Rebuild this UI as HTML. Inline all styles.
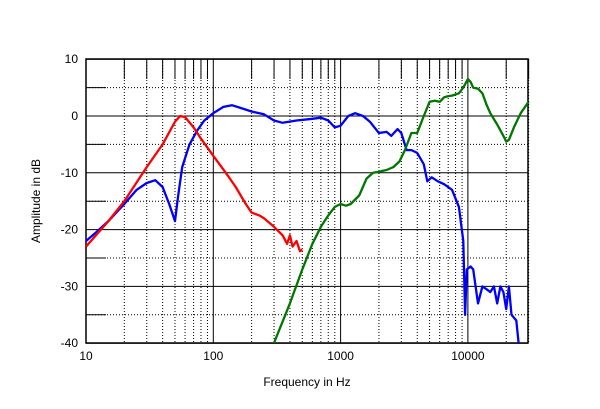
<!DOCTYPE html><html><head><style>body{margin:0;background:#fff}svg{display:block}text{font-family:"Liberation Sans",Arial,sans-serif;font-size:12px;fill:#000}</style></head><body>
<svg id="s" width="600" height="409" xmlns="http://www.w3.org/2000/svg"></svg>
<script>
const s=document.getElementById('s');const L=86,R=528,T=59,B=343;
const X=f=>L+(Math.log10(f)-1)*127.3, Y=d=>116-d*5.68;
let h='';
// horizontal
for(let d=10;d>=-40;d-=5){const y=Y(d);if(d%10==0)h+=`<line x1="${L}" x2="${R}" y1="${y}" y2="${y}" stroke="#000" stroke-width="1"/>`;else{h+=`<line x1="${L}" x2="${R}" y1="${y}" y2="${y}" stroke="#000" stroke-width="1" stroke-dasharray="1,2"/><line x1="${L}" x2="${L+20}" y1="${y}" y2="${y}" stroke="#000"/>`;}}
for(let e=1;e<=4;e++)for(let m=1;m<=9;m++){const f=m*Math.pow(10,e);if(f>30000)break;const x=X(f);if(m==1)h+=`<line x1="${x}" x2="${x}" y1="${T}" y2="${B}" stroke="#000"/>`;else h+=`<line x1="${x}" x2="${x}" y1="${T}" y2="${B}" stroke="#000" stroke-dasharray="1,2"/><line x1="${x}" x2="${x}" y1="${T}" y2="${T+20}" stroke="#000"/>`;}
h+=`<rect x="${L}" y="${T}" width="${R-L}" height="${B-T}" fill="none" stroke="#000" stroke-width="1.5"/>`;
for(let d=10;d>=-40;d-=10)h+=`<text x="${L-8}" y="${Y(d)+4}" text-anchor="end">${d}</text>`;
[[10,'10'],[100,'100'],[1000,'1000'],[10000,'10000']].forEach(a=>h+=`<text x="${X(a[0])}" y="360" text-anchor="middle">${a[1]}</text>`);
h+=`<text x="${L+(R-L)/2}" y="386" text-anchor="middle">Frequency in Hz</text><text transform="translate(40,${(T+B)/2}) rotate(-90)" text-anchor="middle">Amplitude in dB</text>`;
function path(pts,c){let p='';pts.forEach((q,i)=>{let x=X(q[0]),y=Y(q[1]);if(y>B)y=B;p+=(i?'L':'M')+x.toFixed(1)+','+y.toFixed(1)});h+=`<path d="${p}" fill="none" stroke="${c}" stroke-width="2.3" stroke-linejoin="round"/>`;}
path([[10,-22],[12,-20.5],[15,-18.5],[20,-15.5],[25,-13],[30,-11.8],[35,-11.3],[40,-12.5],[45,-15.5],[50,-18.5],[53,-14],[57,-9],[65,-5],[75,-2.5],[85,-0.8],[100,0.5],[120,1.6],[140,1.9],[160,1.5],[200,0.8],[250,0.3],[300,-0.8],[350,-1.2],[450,-0.8],[600,-0.5],[700,-0.3],[800,-0.8],[900,-2],[1000,-1.7],[1150,0],[1300,0.5],[1500,0],[1700,-1],[2000,-3],[2300,-2.8],[2500,-3.5],[2800,-2.3],[3000,-3],[3300,-6],[3600,-6],[4000,-6.5],[4500,-8.5],[4800,-11.5],[5200,-10.8],[5800,-11.5],[6500,-12],[7500,-13],[8500,-16],[9200,-22],[9500,-35],[9800,-27],[10500,-26.5],[11000,-27],[12000,-33],[13000,-30],[14000,-30.5],[15000,-31],[16000,-30],[17000,-33],[18000,-30],[19000,-31],[20000,-34],[21000,-30],[22000,-35],[24000,-36],[25000,-40]],'#0000ff');
path([[10,-23],[15,-18.5],[20,-15],[30,-9],[40,-5],[50,-1],[55,0],[60,-0.2],[70,-2],[80,-4],[100,-7],[130,-10.5],[150,-12.5],[180,-15.5],[200,-17],[230,-17.5],[250,-18],[300,-19.5],[350,-21],[380,-22.5],[400,-21],[420,-23],[450,-22],[480,-23.8],[500,-23.5]],'#ff0000');
path([[300,-40],[400,-33],[500,-27],[600,-22.5],[700,-19.5],[800,-17.5],[900,-16],[1000,-15.5],[1100,-15.8],[1200,-15.5],[1400,-14],[1600,-11],[1800,-10],[2000,-9.8],[2300,-9.5],[2600,-9],[2900,-8],[3200,-6],[3600,-3],[4000,-3],[4500,0],[5000,2.5],[5500,2.7],[6000,2.5],[6500,3.3],[7000,3.5],[7500,3.6],[8500,4],[9200,5],[10000,6.5],[10500,6],[11000,5],[12000,4.8],[13000,4],[14000,2],[15000,0.5],[17000,-1.5],[19000,-3.5],[20000,-4.5],[21000,-4.2],[23000,-2],[26000,0.5],[30000,2.5]],'#007700');
s.innerHTML=h;
</script></body></html>
